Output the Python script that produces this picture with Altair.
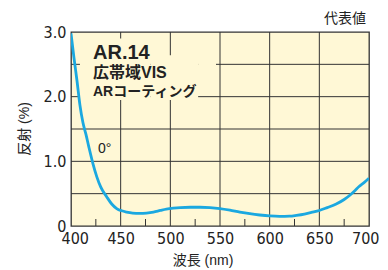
import altair as alt
import pandas as pd

# curve data (wavelength nm, reflectance %)
wl = [400, 403, 406, 409, 412, 415, 418, 422, 426, 430, 436, 441, 446, 451, 456, 462,
      469, 476, 483, 490, 496, 503, 510, 520, 530, 540, 550, 560, 570, 580, 590, 600,
      610, 620, 627, 635, 642, 650, 658, 667, 675, 681, 686, 690, 695, 700]
refl = [2.98, 2.6, 2.25, 1.87, 1.6, 1.42, 1.22, 0.97, 0.76, 0.6, 0.45, 0.34, 0.27, 0.235, 0.215, 0.2,
        0.195, 0.2, 0.215, 0.24, 0.26, 0.275, 0.285, 0.29, 0.29, 0.285, 0.27, 0.245, 0.215, 0.19, 0.17, 0.155,
        0.148, 0.152, 0.165, 0.185, 0.21, 0.24, 0.285, 0.34, 0.41, 0.48, 0.55, 0.61, 0.67, 0.74]

x_grid = [450, 500, 550, 600, 650]
y_grid = [0.5, 1.0, 1.5, 2.0, 2.5]
x_minor = [425, 475, 525, 575, 625, 675]
x_labels = [400, 450, 500, 550, 600, 650, 700]
y_labels = [0, 1, 2, 3]

# masks behind the title block
mask_x = [409, 480, 528]
mask_x2 = [480, 528, 546]
mask_y = [1.95, 1.95, 2.05]
mask_y2 = [2.9, 2.64, 2.64]

BG = "#FFF8D6"
LINE = "#1BA8E0"
GRID = "#333333"
LAT = "Liberation Sans Narrow, DejaVu Sans Condensed, Liberation Sans"
JP = "Liberation Sans, Noto Sans CJK JP"

xs = alt.Scale(domain=[400, 700], nice=False, zero=False)
ys = alt.Scale(domain=[0, 3], nice=False)

curve = pd.DataFrame({"wl": wl, "r": refl})

base_axes = alt.Chart(pd.DataFrame({"wl": [400, 700], "r": [0, 3]})).mark_point(opacity=0).encode(
    x=alt.X("wl:Q", scale=xs, title=None,
            axis=alt.Axis(values=x_labels, labelFontSize=16, labelFont=LAT, labelColor="#222",
                          labelPadding=4, ticks=False, domain=False, grid=False,
                          labelFlush=True, labelFlushOffset=10)),
    y=alt.Y("r:Q", scale=ys, title=None,
            axis=alt.Axis(values=y_labels, labelFontSize=16, labelFont=LAT, labelColor="#222",
                          labelPadding=5, ticks=False, domain=False, grid=False, labelFlush=False,
                          labelExpr="datum.value == 0 ? '0' : format(datum.value, '.1f')")),
)

vgrid = alt.Chart(pd.DataFrame({"g": x_grid})).mark_rule(color=GRID, strokeWidth=1).encode(
    x=alt.X("g:Q", scale=xs))
hgrid = alt.Chart(pd.DataFrame({"g": y_grid})).mark_rule(color=GRID, strokeWidth=1).encode(
    y=alt.Y("g:Q", scale=ys))
minor = alt.Chart(pd.DataFrame({"g": x_minor})).mark_rule(color=GRID, strokeWidth=1).encode(
    x=alt.X("g:Q", scale=xs), y=alt.value(194), y2=alt.value(187))

masks = alt.Chart(pd.DataFrame({"x": mask_x, "x2": mask_x2, "y": mask_y, "y2": mask_y2})).mark_rect(
    color=BG).encode(x=alt.X("x:Q", scale=xs), x2="x2:Q", y=alt.Y("y:Q", scale=ys), y2="y2:Q")

line = alt.Chart(curve).mark_line(color=LINE, strokeWidth=2.8, interpolate="monotone", clip=True).encode(
    x=alt.X("wl:Q", scale=xs), y=alt.Y("r:Q", scale=ys))

def txt(s, x, y, size, weight="normal", align="left", angle=0, color="#222", font=JP):
    kw = dict(text=s, fontSize=size, fontWeight=weight, align=align, color=color, font=font,
              baseline="alphabetic")
    if angle:
        kw["angle"] = angle
        kw["baseline"] = "middle"
    return alt.Chart(pd.DataFrame({"a": [0]})).mark_text(**kw).encode(
        x=alt.value(x), y=alt.value(y))

texts = [
    txt("AR.14", 22, 27, 20, "bold"),
    txt("広帯域VIS", 22, 46, 16, "bold"),
    txt("ARコーティング", 22, 64, 14, "bold"),
    txt("0°", 27, 121, 14),
    txt("代表値", 295, -9, 14, align="right"),
    txt("波長 (nm)", 132, 233, 14, align="center"),
    txt("反射 (%)", -46, 97, 14, align="center", angle=270),
]

chart = alt.layer(base_axes, vgrid, hgrid, minor, masks, line, *texts).properties(
    width=298, height=194,
    autosize=alt.AutoSizeParams(type="none"),
    padding={"left": 63, "top": 24, "right": 11, "bottom": 44},
).configure_view(fill=BG, stroke=GRID, strokeWidth=1.3)

chart.save("out.html", embed_options={"renderer": "svg", "actions": False})
